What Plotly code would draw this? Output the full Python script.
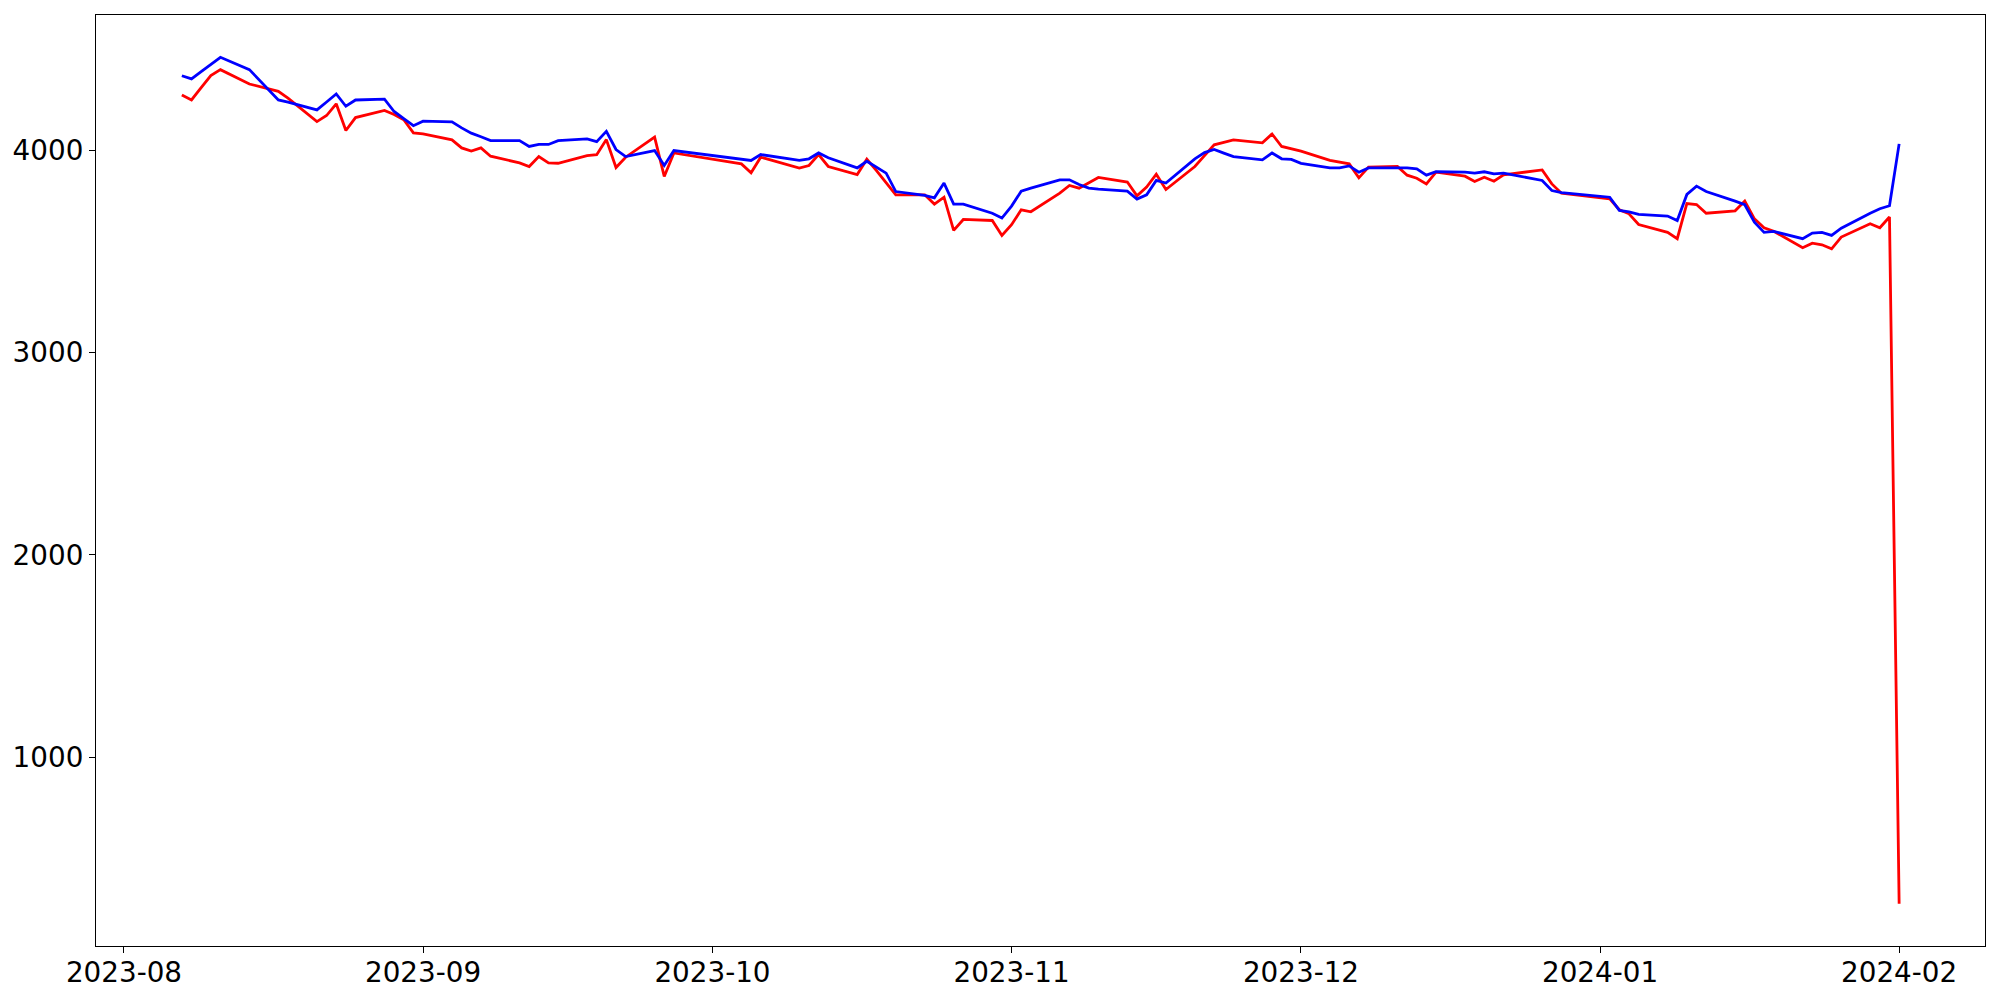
import plotly.graph_objects as go
import pandas as pd

dates = (
    ["2023-08-%02d" % d for d in [7, 8, 9, 10, 11, 14, 16, 17, 18, 21, 22, 23, 24, 25, 28, 29, 30, 31]]
    + ["2023-09-%02d" % d for d in [1, 4, 5, 6, 7, 8, 11, 12, 13, 14, 15, 18, 19, 20, 21, 22, 25, 26, 27]]
    + ["2023-10-%02d" % d for d in [4, 5, 6, 10, 11, 12, 13, 16, 17, 18, 19, 20, 23, 24, 25, 26, 27, 30, 31]]
    + ["2023-11-%02d" % d for d in [1, 2, 3, 6, 7, 8, 9, 10, 13, 14, 15, 16, 17, 20, 21, 22, 23, 24, 27, 28, 29, 30]]
    + ["2023-12-%02d" % d for d in [1, 4, 5, 6, 7, 8, 11, 12, 13, 14, 15, 18, 19, 20, 21, 22, 26, 27, 28]]
    + ["2024-01-%02d" % d for d in [2, 3, 4, 5, 8, 9, 10, 11, 12, 15, 16, 17, 18, 19, 22, 23, 24, 25, 26, 29, 30, 31]]
    + ["2024-02-01"]
)

blue_values = [
    4370, 4354, 4390, 4425, 4461, 4400, 4300, 4250, 4239, 4201, 4240, 4280, 4219, 4250, 4254, 4193, 4158, 4123,
    4145, 4142, 4112, 4086, 4068, 4049, 4049, 4020, 4030, 4030, 4049, 4058, 4044, 4095, 4005, 3970, 4000, 3926, 4000,
    3956, 3951, 3980, 3951, 3959, 3988, 3964, 3914, 3947, 3918, 3888, 3797, 3778, 3766, 3839, 3735, 3735, 3690, 3666,
    3725, 3799, 3814, 3855, 3855, 3832, 3814, 3809, 3799, 3760, 3781, 3852, 3839, 3959, 3990, 4005, 3987, 3970, 3954, 3988, 3959, 3956,
    3937, 3914, 3914, 3924, 3893, 3914, 3914, 3914, 3909, 3878, 3895, 3893, 3888, 3895, 3885, 3888, 3852, 3802, 3792,
    3769, 3704, 3697, 3684, 3676, 3654, 3783, 3824, 3797, 3750, 3732, 3646, 3595, 3600, 3564, 3592, 3595, 3580, 3616, 3690, 3712, 3727,
    4033,
]

red_values = [
    4275, 4250, 4311, 4371, 4400, 4329, 4305, 4293, 4259, 4143, 4173, 4231, 4099, 4163, 4198, 4178, 4152, 4087,
    4082, 4053, 4013, 3997, 4013, 3972, 3939, 3921, 3970, 3939, 3937, 3975, 3979, 4054, 3916, 3967, 4066, 3872, 3988,
    3934, 3890, 3967, 3913, 3926, 3980, 3921, 3881, 3957, 3901, 3839, 3781, 3781, 3735, 3769, 3605, 3659, 3654, 3580,
    3633, 3707, 3697, 3789, 3827, 3814, 3840, 3867, 3844, 3776, 3819, 3883, 3807, 3921, 3975, 4028, 4040, 4053, 4038, 4082, 4020, 4008,
    3997, 3951, 3944, 3934, 3865, 3918, 3921, 3878, 3863, 3835, 3893, 3873, 3847, 3868, 3848, 3880, 3904, 3835, 3789,
    3761, 3707, 3687, 3634, 3595, 3564, 3738, 3733, 3690, 3702, 3750, 3662, 3618, 3601, 3519, 3542, 3534, 3514, 3572, 3638, 3618, 3671,
    275,
]

x = pd.to_datetime(dates)

fig = go.Figure()
fig.add_trace(go.Scatter(x=x, y=red_values, mode="lines",
                         line=dict(color="#ff0000", width=2.8), showlegend=False))
fig.add_trace(go.Scatter(x=x, y=blue_values, mode="lines",
                         line=dict(color="#0000ff", width=2.8), showlegend=False))

# matplotlib-like 5% auto margins
span = x.max() - x.min()
xr = [x.min() - span * 0.05, x.max() + span * 0.05]
allv = red_values + blue_values
vmin, vmax = min(allv), max(allv)
yr = [vmin - 0.05 * (vmax - vmin), vmax + 0.05 * (vmax - vmin)]

font = dict(family="DejaVu Sans", size=27.8, color="black")

fig.update_layout(
    width=2000, height=1000,
    margin=dict(l=96, r=15, t=15, b=54, pad=0, autoexpand=False),
    paper_bgcolor="white", plot_bgcolor="white",
    font=font,
    xaxis=dict(
        type="date", range=xr, tickformat="%Y-%m", dtick="M1", tick0="2023-08-01",
        showgrid=False, zeroline=False, showline=True, mirror=True, automargin=False,
        linecolor="black", linewidth=1.2, ticks="outside", ticklen=6, tickwidth=1.2,
        tickcolor="black", tickfont=font, ticklabelstandoff=-4,
    ),
    yaxis=dict(
        range=yr, tickvals=[1000, 2000, 3000, 4000], ticktext=["1000", "2000", "3000", "4000"],
        showgrid=False, zeroline=False, showline=True, mirror=True, automargin=False,
        linecolor="black", linewidth=1.2, ticks="outside", ticklen=6, tickwidth=1.2,
        tickcolor="black", tickfont=font, ticklabelstandoff=0,
    ),
)

fig.write_html("out.html", config={"displayModeBar": False},
               post_script="document.body.style.margin='0';")
